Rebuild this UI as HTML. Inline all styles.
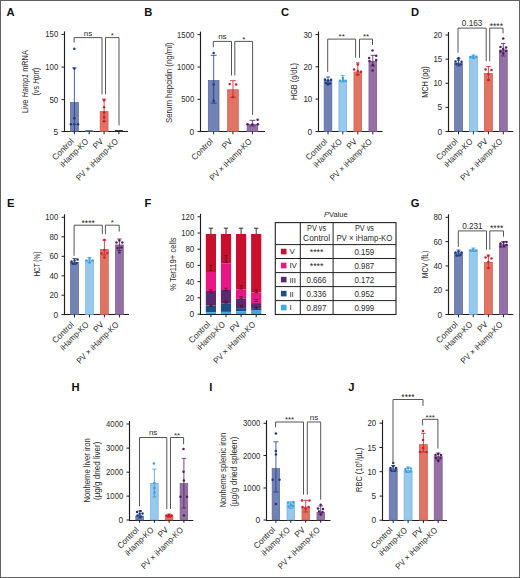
<!DOCTYPE html>
<html><head><meta charset="utf-8"><style>
html,body{margin:0;padding:0;background:#fff;}
body{width:520px;height:578px;overflow:hidden;}
svg{display:block;font-family:"Liberation Sans", sans-serif;}
</style></head><body>
<svg width="520" height="578" viewBox="0 0 520 578">
<rect x="0" y="0" width="520" height="578" fill="#fff"/>
<text x="6.60" y="16.20" font-size="11.2" text-anchor="start" fill="#111" font-weight="bold">A</text>
<line x1="64.50" y1="31.40" x2="64.50" y2="132.10" stroke="#1e1e1e" stroke-width="1.15"/>
<line x1="64.00" y1="131.50" x2="128.00" y2="131.50" stroke="#1e1e1e" stroke-width="1.15"/>
<line x1="61.50" y1="34.40" x2="64.50" y2="34.40" stroke="#1e1e1e" stroke-width="1.0"/>
<text x="58.20" y="37.40" font-size="8.6" text-anchor="end" fill="#2b2b2b" font-weight="normal" textLength="12.95" lengthAdjust="spacingAndGlyphs">150</text>
<line x1="61.50" y1="67.10" x2="64.50" y2="67.10" stroke="#1e1e1e" stroke-width="1.0"/>
<text x="58.20" y="70.10" font-size="8.6" text-anchor="end" fill="#2b2b2b" font-weight="normal" textLength="12.95" lengthAdjust="spacingAndGlyphs">100</text>
<line x1="61.50" y1="99.60" x2="64.50" y2="99.60" stroke="#1e1e1e" stroke-width="1.0"/>
<text x="58.20" y="102.60" font-size="8.6" text-anchor="end" fill="#2b2b2b" font-weight="normal" textLength="8.80" lengthAdjust="spacingAndGlyphs">50</text>
<line x1="61.50" y1="131.50" x2="64.50" y2="131.50" stroke="#1e1e1e" stroke-width="1.0"/>
<text x="58.20" y="134.50" font-size="8.6" text-anchor="end" fill="#2b2b2b" font-weight="normal" textLength="4.65" lengthAdjust="spacingAndGlyphs">5</text>
<rect x="70.45" y="102.55" width="7.90" height="28.95" fill="#7282b4" stroke="#55669c" stroke-width="0.7"/>
<line x1="74.40" y1="131.50" x2="74.40" y2="134.30" stroke="#1e1e1e" stroke-width="1.0"/>
<rect x="85.25" y="131.35" width="7.90" height="0.15" fill="#98c9ec" stroke="#6fb0e0" stroke-width="0.7"/>
<line x1="89.20" y1="131.50" x2="89.20" y2="134.30" stroke="#1e1e1e" stroke-width="1.0"/>
<rect x="100.15" y="111.55" width="7.90" height="19.95" fill="#e07464" stroke="#c85a4a" stroke-width="0.7"/>
<line x1="104.10" y1="131.50" x2="104.10" y2="134.30" stroke="#1e1e1e" stroke-width="1.0"/>
<rect x="114.95" y="131.35" width="7.90" height="0.15" fill="#9670a4" stroke="#7a5690" stroke-width="0.7"/>
<line x1="118.90" y1="131.50" x2="118.90" y2="134.30" stroke="#1e1e1e" stroke-width="1.0"/>
<line x1="74.40" y1="67.90" x2="74.40" y2="131.50" stroke="#1f3a7a" stroke-width="0.8"/>
<line x1="72.15" y1="67.90" x2="76.65" y2="67.90" stroke="#1f3a7a" stroke-width="0.8"/>
<line x1="72.15" y1="131.50" x2="76.65" y2="131.50" stroke="#1f3a7a" stroke-width="0.8"/>
<circle cx="74.30" cy="48.80" r="1.25" fill="#1f3a7a"/>
<circle cx="74.30" cy="68.60" r="1.25" fill="#1f3a7a"/>
<circle cx="74.30" cy="118.20" r="1.25" fill="#1f3a7a"/>
<circle cx="70.90" cy="124.30" r="1.25" fill="#1f3a7a"/>
<circle cx="74.30" cy="124.30" r="1.25" fill="#1f3a7a"/>
<circle cx="78.00" cy="124.30" r="1.25" fill="#1f3a7a"/>
<line x1="104.10" y1="99.10" x2="104.10" y2="121.50" stroke="#d01c2c" stroke-width="0.8"/>
<line x1="101.85" y1="99.10" x2="106.35" y2="99.10" stroke="#d01c2c" stroke-width="0.8"/>
<line x1="101.85" y1="121.50" x2="106.35" y2="121.50" stroke="#d01c2c" stroke-width="0.8"/>
<circle cx="104.10" cy="107.20" r="1.25" fill="#d01c2c"/>
<circle cx="104.10" cy="112.60" r="1.25" fill="#d01c2c"/>
<circle cx="104.10" cy="117.30" r="1.25" fill="#d01c2c"/>
<circle cx="104.10" cy="121.30" r="1.25" fill="#d01c2c"/>
<circle cx="104.10" cy="100.20" r="1.25" fill="#d01c2c"/>
<line x1="85.20" y1="131.00" x2="93.20" y2="131.00" stroke="#2a3f7a" stroke-width="1.4"/>
<line x1="114.90" y1="131.00" x2="122.90" y2="131.00" stroke="#222" stroke-width="1.8"/>
<polyline points="74.10,42.50 74.10,37.60 102.00,37.60 102.00,94.40" fill="none" stroke="#555555" stroke-width="1.0"/>
<text x="88.05" y="35.50" font-size="8.0" text-anchor="middle" fill="#2b2b2b" font-weight="normal">ns</text>
<polyline points="105.50,94.40 105.50,37.60 119.00,37.60 119.00,125.40" fill="none" stroke="#555555" stroke-width="1.0"/>
<text x="112.25" y="37.80" font-size="8.0" text-anchor="middle" fill="#2b2b2b" font-weight="normal">*</text>
<text x="0" y="0" transform="translate(74.20,142.00) rotate(-45)" font-size="8.5" text-anchor="end" fill="#2b2b2b" font-weight="normal" textLength="26.50" lengthAdjust="spacingAndGlyphs">Control</text>
<text x="0" y="0" transform="translate(89.00,142.00) rotate(-45)" font-size="8.5" text-anchor="end" fill="#2b2b2b" font-weight="normal" textLength="36.50" lengthAdjust="spacingAndGlyphs">iHamp-KO</text>
<text x="0" y="0" transform="translate(103.90,142.00) rotate(-45)" font-size="8.5" text-anchor="end" fill="#2b2b2b" font-weight="normal" textLength="10.70" lengthAdjust="spacingAndGlyphs">PV</text>
<text x="0" y="0" transform="translate(118.70,142.00) rotate(-45)" font-size="8.5" text-anchor="end" fill="#2b2b2b" font-weight="normal" textLength="55.50" lengthAdjust="spacingAndGlyphs">PV × iHamp-KO</text>
<text x="0" y="0" transform="translate(27.80,81.65) rotate(-90)" font-size="9.0" text-anchor="middle" fill="#2b2b2b" font-weight="normal" textLength="62.90" lengthAdjust="spacingAndGlyphs">Live <tspan font-style="italic">Hamp1</tspan> mRNA</text>
<text x="0" y="0" transform="translate(38.80,81.65) rotate(-90)" font-size="9.0" text-anchor="middle" fill="#2b2b2b" font-weight="normal" textLength="27.90" lengthAdjust="spacingAndGlyphs">(vs <tspan font-style="italic">Hprt</tspan>)</text>
<text x="144.20" y="16.20" font-size="11.2" text-anchor="start" fill="#111" font-weight="bold">B</text>
<line x1="200.50" y1="31.60" x2="200.50" y2="132.10" stroke="#1e1e1e" stroke-width="1.15"/>
<line x1="200.00" y1="131.50" x2="265.00" y2="131.50" stroke="#1e1e1e" stroke-width="1.15"/>
<line x1="197.50" y1="34.60" x2="200.50" y2="34.60" stroke="#1e1e1e" stroke-width="1.0"/>
<text x="194.20" y="37.60" font-size="8.6" text-anchor="end" fill="#2b2b2b" font-weight="normal" textLength="17.10" lengthAdjust="spacingAndGlyphs">1500</text>
<line x1="197.50" y1="67.00" x2="200.50" y2="67.00" stroke="#1e1e1e" stroke-width="1.0"/>
<text x="194.20" y="70.00" font-size="8.6" text-anchor="end" fill="#2b2b2b" font-weight="normal" textLength="17.10" lengthAdjust="spacingAndGlyphs">1000</text>
<line x1="197.50" y1="99.30" x2="200.50" y2="99.30" stroke="#1e1e1e" stroke-width="1.0"/>
<text x="194.20" y="102.30" font-size="8.6" text-anchor="end" fill="#2b2b2b" font-weight="normal" textLength="12.95" lengthAdjust="spacingAndGlyphs">500</text>
<line x1="197.50" y1="131.50" x2="200.50" y2="131.50" stroke="#1e1e1e" stroke-width="1.0"/>
<text x="194.20" y="134.50" font-size="8.6" text-anchor="end" fill="#2b2b2b" font-weight="normal" textLength="4.65" lengthAdjust="spacingAndGlyphs">0</text>
<rect x="208.30" y="80.45" width="10.70" height="51.05" fill="#7282b4" stroke="#55669c" stroke-width="0.7"/>
<line x1="213.65" y1="131.50" x2="213.65" y2="134.30" stroke="#1e1e1e" stroke-width="1.0"/>
<rect x="227.60" y="89.75" width="10.70" height="41.75" fill="#e07464" stroke="#c85a4a" stroke-width="0.7"/>
<line x1="232.95" y1="131.50" x2="232.95" y2="134.30" stroke="#1e1e1e" stroke-width="1.0"/>
<rect x="247.10" y="124.25" width="10.70" height="7.25" fill="#9670a4" stroke="#7a5690" stroke-width="0.7"/>
<line x1="252.45" y1="131.50" x2="252.45" y2="134.30" stroke="#1e1e1e" stroke-width="1.0"/>
<line x1="213.65" y1="55.30" x2="213.65" y2="103.10" stroke="#1f3a7a" stroke-width="0.8"/>
<line x1="210.65" y1="55.30" x2="216.65" y2="55.30" stroke="#1f3a7a" stroke-width="0.8"/>
<line x1="210.65" y1="103.10" x2="216.65" y2="103.10" stroke="#1f3a7a" stroke-width="0.8"/>
<circle cx="213.70" cy="52.90" r="1.25" fill="#1f3a7a"/>
<circle cx="213.70" cy="84.50" r="1.25" fill="#1f3a7a"/>
<circle cx="213.70" cy="100.70" r="1.25" fill="#1f3a7a"/>
<line x1="232.95" y1="80.70" x2="232.95" y2="97.30" stroke="#d01c2c" stroke-width="0.8"/>
<line x1="229.95" y1="80.70" x2="235.95" y2="80.70" stroke="#d01c2c" stroke-width="0.8"/>
<line x1="229.95" y1="97.30" x2="235.95" y2="97.30" stroke="#d01c2c" stroke-width="0.8"/>
<circle cx="229.70" cy="83.90" r="1.25" fill="#d01c2c"/>
<circle cx="236.10" cy="84.50" r="1.25" fill="#d01c2c"/>
<circle cx="232.90" cy="97.00" r="1.25" fill="#d01c2c"/>
<line x1="252.45" y1="120.30" x2="252.45" y2="126.00" stroke="#4f2060" stroke-width="0.8"/>
<line x1="249.45" y1="120.30" x2="255.45" y2="120.30" stroke="#4f2060" stroke-width="0.8"/>
<line x1="249.45" y1="126.00" x2="255.45" y2="126.00" stroke="#4f2060" stroke-width="0.8"/>
<circle cx="257.60" cy="119.80" r="1.25" fill="#4f2060"/>
<circle cx="247.50" cy="124.20" r="1.25" fill="#4f2060"/>
<circle cx="257.90" cy="124.20" r="1.25" fill="#4f2060"/>
<circle cx="252.40" cy="124.50" r="1.25" fill="#4f2060"/>
<polyline points="213.30,47.20 213.30,41.40 231.50,41.40 231.50,75.50" fill="none" stroke="#555555" stroke-width="1.0"/>
<text x="222.40" y="39.30" font-size="8.0" text-anchor="middle" fill="#2b2b2b" font-weight="normal">ns</text>
<polyline points="234.80,75.50 234.80,41.40 252.60,41.40 252.60,114.80" fill="none" stroke="#555555" stroke-width="1.0"/>
<text x="243.70" y="41.60" font-size="8.0" text-anchor="middle" fill="#2b2b2b" font-weight="normal">*</text>
<text x="0" y="0" transform="translate(213.45,142.00) rotate(-45)" font-size="8.5" text-anchor="end" fill="#2b2b2b" font-weight="normal" textLength="26.50" lengthAdjust="spacingAndGlyphs">Control</text>
<text x="0" y="0" transform="translate(232.75,142.00) rotate(-45)" font-size="8.5" text-anchor="end" fill="#2b2b2b" font-weight="normal" textLength="10.70" lengthAdjust="spacingAndGlyphs">PV</text>
<text x="0" y="0" transform="translate(252.25,142.00) rotate(-45)" font-size="8.5" text-anchor="end" fill="#2b2b2b" font-weight="normal" textLength="55.50" lengthAdjust="spacingAndGlyphs">PV × iHamp-KO</text>
<text x="0" y="0" transform="translate(171.60,82.70) rotate(-90)" font-size="9.0" text-anchor="middle" fill="#2b2b2b" font-weight="normal" textLength="80.70" lengthAdjust="spacingAndGlyphs">Serum hepcidin (ng/ml)</text>
<text x="281.00" y="16.20" font-size="11.2" text-anchor="start" fill="#111" font-weight="bold">C</text>
<line x1="318.50" y1="31.50" x2="318.50" y2="132.10" stroke="#1e1e1e" stroke-width="1.15"/>
<line x1="318.00" y1="131.50" x2="382.50" y2="131.50" stroke="#1e1e1e" stroke-width="1.15"/>
<line x1="315.50" y1="34.50" x2="318.50" y2="34.50" stroke="#1e1e1e" stroke-width="1.0"/>
<text x="312.20" y="37.50" font-size="8.6" text-anchor="end" fill="#2b2b2b" font-weight="normal" textLength="8.80" lengthAdjust="spacingAndGlyphs">30</text>
<line x1="315.50" y1="66.80" x2="318.50" y2="66.80" stroke="#1e1e1e" stroke-width="1.0"/>
<text x="312.20" y="69.80" font-size="8.6" text-anchor="end" fill="#2b2b2b" font-weight="normal" textLength="8.80" lengthAdjust="spacingAndGlyphs">20</text>
<line x1="315.50" y1="99.10" x2="318.50" y2="99.10" stroke="#1e1e1e" stroke-width="1.0"/>
<text x="312.20" y="102.10" font-size="8.6" text-anchor="end" fill="#2b2b2b" font-weight="normal" textLength="8.80" lengthAdjust="spacingAndGlyphs">10</text>
<line x1="315.50" y1="131.60" x2="318.50" y2="131.60" stroke="#1e1e1e" stroke-width="1.0"/>
<text x="312.20" y="134.60" font-size="8.6" text-anchor="end" fill="#2b2b2b" font-weight="normal" textLength="4.65" lengthAdjust="spacingAndGlyphs">0</text>
<rect x="324.15" y="80.45" width="7.70" height="51.15" fill="#7282b4" stroke="#55669c" stroke-width="0.7"/>
<line x1="328.00" y1="131.60" x2="328.00" y2="134.40" stroke="#1e1e1e" stroke-width="1.0"/>
<rect x="338.95" y="81.05" width="7.70" height="50.55" fill="#98c9ec" stroke="#6fb0e0" stroke-width="0.7"/>
<line x1="342.80" y1="131.60" x2="342.80" y2="134.40" stroke="#1e1e1e" stroke-width="1.0"/>
<rect x="353.95" y="71.95" width="7.70" height="59.65" fill="#e07464" stroke="#c85a4a" stroke-width="0.7"/>
<line x1="357.80" y1="131.60" x2="357.80" y2="134.40" stroke="#1e1e1e" stroke-width="1.0"/>
<rect x="368.95" y="61.35" width="7.70" height="70.25" fill="#9670a4" stroke="#7a5690" stroke-width="0.7"/>
<line x1="372.80" y1="131.60" x2="372.80" y2="134.40" stroke="#1e1e1e" stroke-width="1.0"/>
<line x1="328.00" y1="77.00" x2="328.00" y2="84.00" stroke="#1f3a7a" stroke-width="0.8"/>
<line x1="326.00" y1="77.00" x2="330.00" y2="77.00" stroke="#1f3a7a" stroke-width="0.8"/>
<line x1="326.00" y1="84.00" x2="330.00" y2="84.00" stroke="#1f3a7a" stroke-width="0.8"/>
<circle cx="325.00" cy="79.50" r="1.25" fill="#1f3a7a"/>
<circle cx="328.00" cy="80.50" r="1.25" fill="#1f3a7a"/>
<circle cx="331.00" cy="79.80" r="1.25" fill="#1f3a7a"/>
<circle cx="326.00" cy="83.00" r="1.25" fill="#1f3a7a"/>
<circle cx="330.00" cy="83.50" r="1.25" fill="#1f3a7a"/>
<circle cx="328.00" cy="84.50" r="1.25" fill="#1f3a7a"/>
<line x1="342.80" y1="75.50" x2="342.80" y2="82.00" stroke="#3a9fdc" stroke-width="0.8"/>
<line x1="340.80" y1="75.50" x2="344.80" y2="75.50" stroke="#3a9fdc" stroke-width="0.8"/>
<line x1="340.80" y1="82.00" x2="344.80" y2="82.00" stroke="#3a9fdc" stroke-width="0.8"/>
<circle cx="340.00" cy="80.70" r="1.25" fill="#3a9fdc"/>
<circle cx="343.00" cy="80.20" r="1.25" fill="#3a9fdc"/>
<circle cx="345.50" cy="80.80" r="1.25" fill="#3a9fdc"/>
<circle cx="342.80" cy="78.00" r="1.25" fill="#3a9fdc"/>
<line x1="357.80" y1="62.80" x2="357.80" y2="74.50" stroke="#d01c2c" stroke-width="0.8"/>
<line x1="355.80" y1="62.80" x2="359.80" y2="62.80" stroke="#d01c2c" stroke-width="0.8"/>
<line x1="355.80" y1="74.50" x2="359.80" y2="74.50" stroke="#d01c2c" stroke-width="0.8"/>
<circle cx="354.10" cy="69.60" r="1.25" fill="#d01c2c"/>
<circle cx="361.00" cy="71.80" r="1.25" fill="#d01c2c"/>
<circle cx="357.60" cy="74.80" r="1.25" fill="#d01c2c"/>
<circle cx="357.80" cy="64.50" r="1.25" fill="#d01c2c"/>
<circle cx="357.80" cy="71.00" r="1.25" fill="#d01c2c"/>
<line x1="372.80" y1="55.30" x2="372.80" y2="66.00" stroke="#4f2060" stroke-width="0.8"/>
<line x1="370.55" y1="55.30" x2="375.05" y2="55.30" stroke="#4f2060" stroke-width="0.8"/>
<line x1="370.55" y1="66.00" x2="375.05" y2="66.00" stroke="#4f2060" stroke-width="0.8"/>
<circle cx="372.50" cy="50.60" r="1.25" fill="#4f2060"/>
<circle cx="369.20" cy="57.90" r="1.25" fill="#4f2060"/>
<circle cx="376.20" cy="55.80" r="1.25" fill="#4f2060"/>
<circle cx="376.20" cy="60.10" r="1.25" fill="#4f2060"/>
<circle cx="372.70" cy="64.90" r="1.25" fill="#4f2060"/>
<circle cx="372.50" cy="70.50" r="1.25" fill="#4f2060"/>
<circle cx="369.50" cy="61.00" r="1.25" fill="#4f2060"/>
<polyline points="327.70,71.90 327.70,39.10 355.60,39.10 355.60,57.80" fill="none" stroke="#555555" stroke-width="1.0"/>
<text x="341.65" y="39.30" font-size="8.0" text-anchor="middle" fill="#2b2b2b" font-weight="normal">**</text>
<polyline points="359.50,57.80 359.50,39.10 372.50,39.10 372.50,45.00" fill="none" stroke="#555555" stroke-width="1.0"/>
<text x="366.00" y="39.30" font-size="8.0" text-anchor="middle" fill="#2b2b2b" font-weight="normal">**</text>
<text x="0" y="0" transform="translate(327.80,142.10) rotate(-45)" font-size="8.5" text-anchor="end" fill="#2b2b2b" font-weight="normal" textLength="26.50" lengthAdjust="spacingAndGlyphs">Control</text>
<text x="0" y="0" transform="translate(342.60,142.10) rotate(-45)" font-size="8.5" text-anchor="end" fill="#2b2b2b" font-weight="normal" textLength="36.50" lengthAdjust="spacingAndGlyphs">iHamp-KO</text>
<text x="0" y="0" transform="translate(357.60,142.10) rotate(-45)" font-size="8.5" text-anchor="end" fill="#2b2b2b" font-weight="normal" textLength="10.70" lengthAdjust="spacingAndGlyphs">PV</text>
<text x="0" y="0" transform="translate(372.60,142.10) rotate(-45)" font-size="8.5" text-anchor="end" fill="#2b2b2b" font-weight="normal" textLength="55.50" lengthAdjust="spacingAndGlyphs">PV × iHamp-KO</text>
<text x="0" y="0" transform="translate(297.40,81.60) rotate(-90)" font-size="9.0" text-anchor="middle" fill="#2b2b2b" font-weight="normal" textLength="37.00" lengthAdjust="spacingAndGlyphs">HGB (g/dL)</text>
<text x="411.00" y="16.20" font-size="11.2" text-anchor="start" fill="#111" font-weight="bold">D</text>
<line x1="448.50" y1="32.00" x2="448.50" y2="132.10" stroke="#1e1e1e" stroke-width="1.15"/>
<line x1="448.00" y1="131.50" x2="513.30" y2="131.50" stroke="#1e1e1e" stroke-width="1.15"/>
<line x1="445.50" y1="35.00" x2="448.50" y2="35.00" stroke="#1e1e1e" stroke-width="1.0"/>
<text x="442.20" y="38.00" font-size="8.6" text-anchor="end" fill="#2b2b2b" font-weight="normal" textLength="8.80" lengthAdjust="spacingAndGlyphs">20</text>
<line x1="445.50" y1="59.20" x2="448.50" y2="59.20" stroke="#1e1e1e" stroke-width="1.0"/>
<text x="442.20" y="62.20" font-size="8.6" text-anchor="end" fill="#2b2b2b" font-weight="normal" textLength="8.80" lengthAdjust="spacingAndGlyphs">15</text>
<line x1="445.50" y1="83.30" x2="448.50" y2="83.30" stroke="#1e1e1e" stroke-width="1.0"/>
<text x="442.20" y="86.30" font-size="8.6" text-anchor="end" fill="#2b2b2b" font-weight="normal" textLength="8.80" lengthAdjust="spacingAndGlyphs">10</text>
<line x1="445.50" y1="107.40" x2="448.50" y2="107.40" stroke="#1e1e1e" stroke-width="1.0"/>
<text x="442.20" y="110.40" font-size="8.6" text-anchor="end" fill="#2b2b2b" font-weight="normal" textLength="4.65" lengthAdjust="spacingAndGlyphs">5</text>
<line x1="445.50" y1="131.50" x2="448.50" y2="131.50" stroke="#1e1e1e" stroke-width="1.0"/>
<text x="442.20" y="134.50" font-size="8.6" text-anchor="end" fill="#2b2b2b" font-weight="normal" textLength="4.65" lengthAdjust="spacingAndGlyphs">0</text>
<rect x="454.55" y="63.05" width="7.90" height="68.45" fill="#7282b4" stroke="#55669c" stroke-width="0.7"/>
<line x1="458.50" y1="131.50" x2="458.50" y2="134.30" stroke="#1e1e1e" stroke-width="1.0"/>
<rect x="469.45" y="56.85" width="7.90" height="74.65" fill="#98c9ec" stroke="#6fb0e0" stroke-width="0.7"/>
<line x1="473.40" y1="131.50" x2="473.40" y2="134.30" stroke="#1e1e1e" stroke-width="1.0"/>
<rect x="484.45" y="73.55" width="7.90" height="57.95" fill="#e07464" stroke="#c85a4a" stroke-width="0.7"/>
<line x1="488.40" y1="131.50" x2="488.40" y2="134.30" stroke="#1e1e1e" stroke-width="1.0"/>
<rect x="499.35" y="49.95" width="7.90" height="81.55" fill="#9670a4" stroke="#7a5690" stroke-width="0.7"/>
<line x1="503.30" y1="131.50" x2="503.30" y2="134.30" stroke="#1e1e1e" stroke-width="1.0"/>
<line x1="458.50" y1="58.50" x2="458.50" y2="66.00" stroke="#1f3a7a" stroke-width="0.8"/>
<line x1="456.50" y1="58.50" x2="460.50" y2="58.50" stroke="#1f3a7a" stroke-width="0.8"/>
<line x1="456.50" y1="66.00" x2="460.50" y2="66.00" stroke="#1f3a7a" stroke-width="0.8"/>
<circle cx="455.50" cy="61.50" r="1.25" fill="#1f3a7a"/>
<circle cx="458.50" cy="60.00" r="1.25" fill="#1f3a7a"/>
<circle cx="461.50" cy="61.80" r="1.25" fill="#1f3a7a"/>
<circle cx="456.50" cy="64.00" r="1.25" fill="#1f3a7a"/>
<circle cx="460.50" cy="64.50" r="1.25" fill="#1f3a7a"/>
<circle cx="458.50" cy="58.00" r="1.25" fill="#1f3a7a"/>
<line x1="473.40" y1="55.00" x2="473.40" y2="58.50" stroke="#3a9fdc" stroke-width="0.8"/>
<line x1="471.40" y1="55.00" x2="475.40" y2="55.00" stroke="#3a9fdc" stroke-width="0.8"/>
<line x1="471.40" y1="58.50" x2="475.40" y2="58.50" stroke="#3a9fdc" stroke-width="0.8"/>
<circle cx="470.50" cy="57.00" r="1.25" fill="#3a9fdc"/>
<circle cx="473.40" cy="56.00" r="1.25" fill="#3a9fdc"/>
<circle cx="476.30" cy="56.80" r="1.25" fill="#3a9fdc"/>
<circle cx="473.40" cy="58.00" r="1.25" fill="#3a9fdc"/>
<line x1="488.40" y1="66.50" x2="488.40" y2="80.00" stroke="#d01c2c" stroke-width="0.8"/>
<line x1="486.40" y1="66.50" x2="490.40" y2="66.50" stroke="#d01c2c" stroke-width="0.8"/>
<line x1="486.40" y1="80.00" x2="490.40" y2="80.00" stroke="#d01c2c" stroke-width="0.8"/>
<circle cx="485.50" cy="69.50" r="1.25" fill="#d01c2c"/>
<circle cx="491.50" cy="70.00" r="1.25" fill="#d01c2c"/>
<circle cx="488.40" cy="74.00" r="1.25" fill="#d01c2c"/>
<circle cx="488.40" cy="80.00" r="1.25" fill="#d01c2c"/>
<line x1="503.30" y1="43.50" x2="503.30" y2="56.00" stroke="#4f2060" stroke-width="0.8"/>
<line x1="501.05" y1="43.50" x2="505.55" y2="43.50" stroke="#4f2060" stroke-width="0.8"/>
<line x1="501.05" y1="56.00" x2="505.55" y2="56.00" stroke="#4f2060" stroke-width="0.8"/>
<circle cx="503.20" cy="38.50" r="1.25" fill="#4f2060"/>
<circle cx="500.50" cy="47.00" r="1.25" fill="#4f2060"/>
<circle cx="506.00" cy="47.50" r="1.25" fill="#4f2060"/>
<circle cx="500.50" cy="51.50" r="1.25" fill="#4f2060"/>
<circle cx="506.00" cy="51.00" r="1.25" fill="#4f2060"/>
<circle cx="503.20" cy="53.50" r="1.25" fill="#4f2060"/>
<circle cx="503.20" cy="49.00" r="1.25" fill="#4f2060"/>
<polyline points="458.00,52.70 458.00,28.10 486.20,28.10 486.20,61.20" fill="none" stroke="#555555" stroke-width="1.0"/>
<text x="472.10" y="25.70" font-size="8.2" text-anchor="middle" fill="#2b2b2b" font-weight="normal">0.163</text>
<polyline points="489.70,61.20 489.70,28.10 503.00,28.10 503.00,33.50" fill="none" stroke="#555555" stroke-width="1.0"/>
<text x="496.35" y="28.50" font-size="8.6" text-anchor="middle" fill="#2b2b2b" font-weight="normal">****</text>
<text x="0" y="0" transform="translate(458.30,142.00) rotate(-45)" font-size="8.5" text-anchor="end" fill="#2b2b2b" font-weight="normal" textLength="26.50" lengthAdjust="spacingAndGlyphs">Control</text>
<text x="0" y="0" transform="translate(473.20,142.00) rotate(-45)" font-size="8.5" text-anchor="end" fill="#2b2b2b" font-weight="normal" textLength="36.50" lengthAdjust="spacingAndGlyphs">iHamp-KO</text>
<text x="0" y="0" transform="translate(488.20,142.00) rotate(-45)" font-size="8.5" text-anchor="end" fill="#2b2b2b" font-weight="normal" textLength="10.70" lengthAdjust="spacingAndGlyphs">PV</text>
<text x="0" y="0" transform="translate(503.10,142.00) rotate(-45)" font-size="8.5" text-anchor="end" fill="#2b2b2b" font-weight="normal" textLength="55.50" lengthAdjust="spacingAndGlyphs">PV × iHamp-KO</text>
<text x="0" y="0" transform="translate(427.80,82.00) rotate(-90)" font-size="9.0" text-anchor="middle" fill="#2b2b2b" font-weight="normal" textLength="31.50" lengthAdjust="spacingAndGlyphs">MCH (pg)</text>
<text x="6.90" y="207.40" font-size="11.2" text-anchor="start" fill="#111" font-weight="bold">E</text>
<line x1="64.50" y1="214.30" x2="64.50" y2="315.10" stroke="#1e1e1e" stroke-width="1.15"/>
<line x1="64.00" y1="314.50" x2="129.00" y2="314.50" stroke="#1e1e1e" stroke-width="1.15"/>
<line x1="61.50" y1="217.30" x2="64.50" y2="217.30" stroke="#1e1e1e" stroke-width="1.0"/>
<text x="58.20" y="220.30" font-size="8.6" text-anchor="end" fill="#2b2b2b" font-weight="normal" textLength="12.95" lengthAdjust="spacingAndGlyphs">100</text>
<line x1="61.50" y1="236.80" x2="64.50" y2="236.80" stroke="#1e1e1e" stroke-width="1.0"/>
<text x="58.20" y="239.80" font-size="8.6" text-anchor="end" fill="#2b2b2b" font-weight="normal" textLength="8.80" lengthAdjust="spacingAndGlyphs">80</text>
<line x1="61.50" y1="256.30" x2="64.50" y2="256.30" stroke="#1e1e1e" stroke-width="1.0"/>
<text x="58.20" y="259.30" font-size="8.6" text-anchor="end" fill="#2b2b2b" font-weight="normal" textLength="8.80" lengthAdjust="spacingAndGlyphs">60</text>
<line x1="61.50" y1="275.80" x2="64.50" y2="275.80" stroke="#1e1e1e" stroke-width="1.0"/>
<text x="58.20" y="278.80" font-size="8.6" text-anchor="end" fill="#2b2b2b" font-weight="normal" textLength="8.80" lengthAdjust="spacingAndGlyphs">40</text>
<line x1="61.50" y1="295.20" x2="64.50" y2="295.20" stroke="#1e1e1e" stroke-width="1.0"/>
<text x="58.20" y="298.20" font-size="8.6" text-anchor="end" fill="#2b2b2b" font-weight="normal" textLength="8.80" lengthAdjust="spacingAndGlyphs">20</text>
<line x1="61.50" y1="314.60" x2="64.50" y2="314.60" stroke="#1e1e1e" stroke-width="1.0"/>
<text x="58.20" y="317.60" font-size="8.6" text-anchor="end" fill="#2b2b2b" font-weight="normal" textLength="4.65" lengthAdjust="spacingAndGlyphs">0</text>
<rect x="70.60" y="262.35" width="7.80" height="52.25" fill="#7282b4" stroke="#55669c" stroke-width="0.7"/>
<line x1="74.50" y1="314.60" x2="74.50" y2="317.40" stroke="#1e1e1e" stroke-width="1.0"/>
<rect x="85.60" y="260.55" width="7.80" height="54.05" fill="#98c9ec" stroke="#6fb0e0" stroke-width="0.7"/>
<line x1="89.50" y1="314.60" x2="89.50" y2="317.40" stroke="#1e1e1e" stroke-width="1.0"/>
<rect x="100.50" y="249.35" width="7.80" height="65.25" fill="#e07464" stroke="#c85a4a" stroke-width="0.7"/>
<line x1="104.40" y1="314.60" x2="104.40" y2="317.40" stroke="#1e1e1e" stroke-width="1.0"/>
<rect x="115.50" y="244.95" width="7.80" height="69.65" fill="#9670a4" stroke="#7a5690" stroke-width="0.7"/>
<line x1="119.40" y1="314.60" x2="119.40" y2="317.40" stroke="#1e1e1e" stroke-width="1.0"/>
<line x1="74.50" y1="258.50" x2="74.50" y2="264.50" stroke="#1f3a7a" stroke-width="0.8"/>
<line x1="72.50" y1="258.50" x2="76.50" y2="258.50" stroke="#1f3a7a" stroke-width="0.8"/>
<line x1="72.50" y1="264.50" x2="76.50" y2="264.50" stroke="#1f3a7a" stroke-width="0.8"/>
<circle cx="71.50" cy="261.50" r="1.25" fill="#1f3a7a"/>
<circle cx="74.50" cy="260.50" r="1.25" fill="#1f3a7a"/>
<circle cx="77.50" cy="259.50" r="1.25" fill="#1f3a7a"/>
<circle cx="72.50" cy="263.50" r="1.25" fill="#1f3a7a"/>
<circle cx="76.50" cy="263.00" r="1.25" fill="#1f3a7a"/>
<line x1="89.50" y1="257.50" x2="89.50" y2="262.50" stroke="#3a9fdc" stroke-width="0.8"/>
<line x1="87.50" y1="257.50" x2="91.50" y2="257.50" stroke="#3a9fdc" stroke-width="0.8"/>
<line x1="87.50" y1="262.50" x2="91.50" y2="262.50" stroke="#3a9fdc" stroke-width="0.8"/>
<circle cx="86.50" cy="260.50" r="1.25" fill="#3a9fdc"/>
<circle cx="89.50" cy="259.00" r="1.25" fill="#3a9fdc"/>
<circle cx="92.50" cy="260.50" r="1.25" fill="#3a9fdc"/>
<circle cx="89.50" cy="262.50" r="1.25" fill="#3a9fdc"/>
<line x1="104.40" y1="240.00" x2="104.40" y2="255.00" stroke="#d01c2c" stroke-width="0.8"/>
<line x1="102.40" y1="240.00" x2="106.40" y2="240.00" stroke="#d01c2c" stroke-width="0.8"/>
<line x1="102.40" y1="255.00" x2="106.40" y2="255.00" stroke="#d01c2c" stroke-width="0.8"/>
<circle cx="101.50" cy="253.50" r="1.25" fill="#d01c2c"/>
<circle cx="107.40" cy="253.00" r="1.25" fill="#d01c2c"/>
<circle cx="104.40" cy="250.00" r="1.25" fill="#d01c2c"/>
<circle cx="104.40" cy="240.00" r="1.25" fill="#d01c2c"/>
<circle cx="104.40" cy="257.50" r="1.25" fill="#d01c2c"/>
<line x1="119.40" y1="239.00" x2="119.40" y2="250.50" stroke="#4f2060" stroke-width="0.8"/>
<line x1="117.15" y1="239.00" x2="121.65" y2="239.00" stroke="#4f2060" stroke-width="0.8"/>
<line x1="117.15" y1="250.50" x2="121.65" y2="250.50" stroke="#4f2060" stroke-width="0.8"/>
<circle cx="116.50" cy="242.50" r="1.25" fill="#4f2060"/>
<circle cx="122.30" cy="242.50" r="1.25" fill="#4f2060"/>
<circle cx="119.40" cy="240.50" r="1.25" fill="#4f2060"/>
<circle cx="117.50" cy="248.00" r="1.25" fill="#4f2060"/>
<circle cx="121.50" cy="247.50" r="1.25" fill="#4f2060"/>
<circle cx="119.40" cy="252.50" r="1.25" fill="#4f2060"/>
<polyline points="74.10,255.80 74.10,225.20 102.30,225.20 102.30,234.20" fill="none" stroke="#555555" stroke-width="1.0"/>
<text x="88.20" y="225.60" font-size="8.6" text-anchor="middle" fill="#2b2b2b" font-weight="normal">****</text>
<polyline points="105.40,234.20 105.40,225.20 119.20,225.20 119.20,231.60" fill="none" stroke="#555555" stroke-width="1.0"/>
<text x="112.30" y="225.40" font-size="8.0" text-anchor="middle" fill="#2b2b2b" font-weight="normal">*</text>
<text x="0" y="0" transform="translate(74.30,325.10) rotate(-45)" font-size="8.5" text-anchor="end" fill="#2b2b2b" font-weight="normal" textLength="26.50" lengthAdjust="spacingAndGlyphs">Control</text>
<text x="0" y="0" transform="translate(89.30,325.10) rotate(-45)" font-size="8.5" text-anchor="end" fill="#2b2b2b" font-weight="normal" textLength="36.50" lengthAdjust="spacingAndGlyphs">iHamp-KO</text>
<text x="0" y="0" transform="translate(104.20,325.10) rotate(-45)" font-size="8.5" text-anchor="end" fill="#2b2b2b" font-weight="normal" textLength="10.70" lengthAdjust="spacingAndGlyphs">PV</text>
<text x="0" y="0" transform="translate(119.20,325.10) rotate(-45)" font-size="8.5" text-anchor="end" fill="#2b2b2b" font-weight="normal" textLength="55.50" lengthAdjust="spacingAndGlyphs">PV × iHamp-KO</text>
<text x="0" y="0" transform="translate(39.90,264.10) rotate(-90)" font-size="9.0" text-anchor="middle" fill="#2b2b2b" font-weight="normal" textLength="25.00" lengthAdjust="spacingAndGlyphs">HCT (%)</text>
<text x="144.40" y="207.40" font-size="11.2" text-anchor="start" fill="#111" font-weight="bold">F</text>
<line x1="200.50" y1="213.80" x2="200.50" y2="315.10" stroke="#1e1e1e" stroke-width="1.15"/>
<line x1="200.00" y1="314.50" x2="266.00" y2="314.50" stroke="#1e1e1e" stroke-width="1.15"/>
<line x1="197.50" y1="216.80" x2="200.50" y2="216.80" stroke="#1e1e1e" stroke-width="1.0"/>
<text x="194.20" y="219.80" font-size="8.6" text-anchor="end" fill="#2b2b2b" font-weight="normal" textLength="12.95" lengthAdjust="spacingAndGlyphs">120</text>
<line x1="197.50" y1="233.00" x2="200.50" y2="233.00" stroke="#1e1e1e" stroke-width="1.0"/>
<text x="194.20" y="236.00" font-size="8.6" text-anchor="end" fill="#2b2b2b" font-weight="normal" textLength="12.95" lengthAdjust="spacingAndGlyphs">100</text>
<line x1="197.50" y1="249.20" x2="200.50" y2="249.20" stroke="#1e1e1e" stroke-width="1.0"/>
<text x="194.20" y="252.20" font-size="8.6" text-anchor="end" fill="#2b2b2b" font-weight="normal" textLength="8.80" lengthAdjust="spacingAndGlyphs">80</text>
<line x1="197.50" y1="265.40" x2="200.50" y2="265.40" stroke="#1e1e1e" stroke-width="1.0"/>
<text x="194.20" y="268.40" font-size="8.6" text-anchor="end" fill="#2b2b2b" font-weight="normal" textLength="8.80" lengthAdjust="spacingAndGlyphs">60</text>
<line x1="197.50" y1="281.60" x2="200.50" y2="281.60" stroke="#1e1e1e" stroke-width="1.0"/>
<text x="194.20" y="284.60" font-size="8.6" text-anchor="end" fill="#2b2b2b" font-weight="normal" textLength="8.80" lengthAdjust="spacingAndGlyphs">40</text>
<line x1="197.50" y1="297.80" x2="200.50" y2="297.80" stroke="#1e1e1e" stroke-width="1.0"/>
<text x="194.20" y="300.80" font-size="8.6" text-anchor="end" fill="#2b2b2b" font-weight="normal" textLength="8.80" lengthAdjust="spacingAndGlyphs">20</text>
<line x1="197.50" y1="314.20" x2="200.50" y2="314.20" stroke="#1e1e1e" stroke-width="1.0"/>
<text x="194.20" y="317.20" font-size="8.6" text-anchor="end" fill="#2b2b2b" font-weight="normal" textLength="4.65" lengthAdjust="spacingAndGlyphs">0</text>
<rect x="205.80" y="234.00" width="10.20" height="38.00" fill="#c8102e"/>
<rect x="205.80" y="272.00" width="10.20" height="19.00" fill="#ec1584"/>
<rect x="205.80" y="291.00" width="10.20" height="14.60" fill="#5b2a6e"/>
<rect x="205.80" y="305.60" width="10.20" height="6.60" fill="#1d4f82"/>
<rect x="205.80" y="312.20" width="10.20" height="1.80" fill="#3fa9e0"/>
<line x1="210.90" y1="228.20" x2="210.90" y2="234.00" stroke="#333" stroke-width="1.0"/>
<line x1="208.70" y1="228.20" x2="213.10" y2="228.20" stroke="#333" stroke-width="1.0"/>
<line x1="210.90" y1="314.40" x2="210.90" y2="317.20" stroke="#1e1e1e" stroke-width="1.0"/>
<rect x="220.90" y="234.00" width="10.20" height="29.20" fill="#c8102e"/>
<rect x="220.90" y="263.20" width="10.20" height="26.80" fill="#ec1584"/>
<rect x="220.90" y="290.00" width="10.20" height="13.70" fill="#5b2a6e"/>
<rect x="220.90" y="303.70" width="10.20" height="8.20" fill="#1d4f82"/>
<rect x="220.90" y="311.90" width="10.20" height="2.10" fill="#3fa9e0"/>
<line x1="226.00" y1="228.20" x2="226.00" y2="234.00" stroke="#333" stroke-width="1.0"/>
<line x1="223.80" y1="228.20" x2="228.20" y2="228.20" stroke="#333" stroke-width="1.0"/>
<line x1="226.00" y1="314.40" x2="226.00" y2="317.20" stroke="#1e1e1e" stroke-width="1.0"/>
<rect x="236.00" y="234.00" width="10.20" height="55.40" fill="#c8102e"/>
<rect x="236.00" y="289.40" width="10.20" height="9.30" fill="#ec1584"/>
<rect x="236.00" y="298.70" width="10.20" height="9.40" fill="#5b2a6e"/>
<rect x="236.00" y="308.10" width="10.20" height="3.10" fill="#1d4f82"/>
<rect x="236.00" y="311.20" width="10.20" height="2.80" fill="#3fa9e0"/>
<line x1="241.10" y1="228.20" x2="241.10" y2="234.00" stroke="#333" stroke-width="1.0"/>
<line x1="238.90" y1="228.20" x2="243.30" y2="228.20" stroke="#333" stroke-width="1.0"/>
<line x1="241.10" y1="314.40" x2="241.10" y2="317.20" stroke="#1e1e1e" stroke-width="1.0"/>
<rect x="251.10" y="234.00" width="10.20" height="58.50" fill="#c8102e"/>
<rect x="251.10" y="292.50" width="10.20" height="10.60" fill="#ec1584"/>
<rect x="251.10" y="303.10" width="10.20" height="5.00" fill="#5b2a6e"/>
<rect x="251.10" y="308.10" width="10.20" height="2.50" fill="#1d4f82"/>
<rect x="251.10" y="310.60" width="10.20" height="3.40" fill="#3fa9e0"/>
<line x1="256.20" y1="228.20" x2="256.20" y2="234.00" stroke="#333" stroke-width="1.0"/>
<line x1="254.00" y1="228.20" x2="258.40" y2="228.20" stroke="#333" stroke-width="1.0"/>
<line x1="256.20" y1="314.40" x2="256.20" y2="317.20" stroke="#1e1e1e" stroke-width="1.0"/>
<line x1="210.90" y1="265.30" x2="210.90" y2="270.50" stroke="#4a1028" stroke-width="0.8"/>
<line x1="209.20" y1="265.30" x2="212.60" y2="265.30" stroke="#4a1028" stroke-width="0.8"/>
<line x1="209.20" y1="270.50" x2="212.60" y2="270.50" stroke="#4a1028" stroke-width="0.8"/>
<line x1="226.00" y1="255.50" x2="226.00" y2="262.40" stroke="#4a1028" stroke-width="0.8"/>
<line x1="224.30" y1="255.50" x2="227.70" y2="255.50" stroke="#4a1028" stroke-width="0.8"/>
<line x1="224.30" y1="262.40" x2="227.70" y2="262.40" stroke="#4a1028" stroke-width="0.8"/>
<line x1="241.10" y1="285.60" x2="241.10" y2="289.00" stroke="#4a1028" stroke-width="0.8"/>
<line x1="239.40" y1="285.60" x2="242.80" y2="285.60" stroke="#4a1028" stroke-width="0.8"/>
<line x1="239.40" y1="289.00" x2="242.80" y2="289.00" stroke="#4a1028" stroke-width="0.8"/>
<line x1="256.20" y1="290.00" x2="256.20" y2="292.60" stroke="#4a1028" stroke-width="0.8"/>
<line x1="254.50" y1="290.00" x2="257.90" y2="290.00" stroke="#4a1028" stroke-width="0.8"/>
<line x1="254.50" y1="292.60" x2="257.90" y2="292.60" stroke="#4a1028" stroke-width="0.8"/>
<line x1="210.90" y1="289.60" x2="210.90" y2="292.00" stroke="#4a1028" stroke-width="0.8"/>
<line x1="209.20" y1="289.60" x2="212.60" y2="289.60" stroke="#4a1028" stroke-width="0.8"/>
<line x1="209.20" y1="292.00" x2="212.60" y2="292.00" stroke="#4a1028" stroke-width="0.8"/>
<line x1="226.00" y1="288.30" x2="226.00" y2="290.50" stroke="#4a1028" stroke-width="0.8"/>
<line x1="224.30" y1="288.30" x2="227.70" y2="288.30" stroke="#4a1028" stroke-width="0.8"/>
<line x1="224.30" y1="290.50" x2="227.70" y2="290.50" stroke="#4a1028" stroke-width="0.8"/>
<line x1="241.10" y1="296.60" x2="241.10" y2="298.70" stroke="#4a1028" stroke-width="0.8"/>
<line x1="239.40" y1="296.60" x2="242.80" y2="296.60" stroke="#4a1028" stroke-width="0.8"/>
<line x1="239.40" y1="298.70" x2="242.80" y2="298.70" stroke="#4a1028" stroke-width="0.8"/>
<line x1="256.20" y1="299.50" x2="256.20" y2="301.50" stroke="#4a1028" stroke-width="0.8"/>
<line x1="254.50" y1="299.50" x2="257.90" y2="299.50" stroke="#4a1028" stroke-width="0.8"/>
<line x1="254.50" y1="301.50" x2="257.90" y2="301.50" stroke="#4a1028" stroke-width="0.8"/>
<line x1="210.90" y1="304.80" x2="210.90" y2="306.40" stroke="#4a1028" stroke-width="0.8"/>
<line x1="209.20" y1="304.80" x2="212.60" y2="304.80" stroke="#4a1028" stroke-width="0.8"/>
<line x1="209.20" y1="306.40" x2="212.60" y2="306.40" stroke="#4a1028" stroke-width="0.8"/>
<line x1="226.00" y1="301.30" x2="226.00" y2="303.00" stroke="#4a1028" stroke-width="0.8"/>
<line x1="224.30" y1="301.30" x2="227.70" y2="301.30" stroke="#4a1028" stroke-width="0.8"/>
<line x1="224.30" y1="303.00" x2="227.70" y2="303.00" stroke="#4a1028" stroke-width="0.8"/>
<line x1="241.10" y1="305.20" x2="241.10" y2="306.80" stroke="#4a1028" stroke-width="0.8"/>
<line x1="239.40" y1="305.20" x2="242.80" y2="305.20" stroke="#4a1028" stroke-width="0.8"/>
<line x1="239.40" y1="306.80" x2="242.80" y2="306.80" stroke="#4a1028" stroke-width="0.8"/>
<line x1="256.20" y1="307.40" x2="256.20" y2="308.80" stroke="#4a1028" stroke-width="0.8"/>
<line x1="254.50" y1="307.40" x2="257.90" y2="307.40" stroke="#4a1028" stroke-width="0.8"/>
<line x1="254.50" y1="308.80" x2="257.90" y2="308.80" stroke="#4a1028" stroke-width="0.8"/>
<text x="0" y="0" transform="translate(210.70,324.90) rotate(-45)" font-size="8.5" text-anchor="end" fill="#2b2b2b" font-weight="normal" textLength="26.50" lengthAdjust="spacingAndGlyphs">Control</text>
<text x="0" y="0" transform="translate(225.80,324.90) rotate(-45)" font-size="8.5" text-anchor="end" fill="#2b2b2b" font-weight="normal" textLength="36.50" lengthAdjust="spacingAndGlyphs">iHamp-KO</text>
<text x="0" y="0" transform="translate(240.90,324.90) rotate(-45)" font-size="8.5" text-anchor="end" fill="#2b2b2b" font-weight="normal" textLength="10.70" lengthAdjust="spacingAndGlyphs">PV</text>
<text x="0" y="0" transform="translate(256.00,324.90) rotate(-45)" font-size="8.5" text-anchor="end" fill="#2b2b2b" font-weight="normal" textLength="55.50" lengthAdjust="spacingAndGlyphs">PV × iHamp-KO</text>
<text x="0" y="0" transform="translate(176.30,264.00) rotate(-90)" font-size="9.0" text-anchor="middle" fill="#2b2b2b" font-weight="normal" textLength="53.30" lengthAdjust="spacingAndGlyphs">% Ter119+ cells</text>
<rect x="275.3" y="222.6" width="120.70" height="91.90" fill="none" stroke="#222" stroke-width="1.1"/>
<line x1="275.30" y1="244.60" x2="396.00" y2="244.60" stroke="#222" stroke-width="1.0"/>
<line x1="275.30" y1="258.50" x2="396.00" y2="258.50" stroke="#222" stroke-width="1.0"/>
<line x1="275.30" y1="272.60" x2="396.00" y2="272.60" stroke="#222" stroke-width="1.0"/>
<line x1="275.30" y1="286.60" x2="396.00" y2="286.60" stroke="#222" stroke-width="1.0"/>
<line x1="275.30" y1="300.60" x2="396.00" y2="300.60" stroke="#222" stroke-width="1.0"/>
<line x1="300.30" y1="222.60" x2="300.30" y2="314.50" stroke="#222" stroke-width="1.0"/>
<line x1="333.10" y1="222.60" x2="333.10" y2="314.50" stroke="#222" stroke-width="1.0"/>
<text x="335.80" y="217.30" font-size="8.0" text-anchor="middle" fill="#2b2b2b" font-weight="normal" textLength="23.80" lengthAdjust="spacingAndGlyphs"><tspan font-style="italic">P</tspan>Value</text>
<text x="316.60" y="231.30" font-size="8.3" text-anchor="middle" fill="#2b2b2b" font-weight="normal" textLength="19.00" lengthAdjust="spacingAndGlyphs">PV vs</text>
<text x="316.60" y="241.00" font-size="8.3" text-anchor="middle" fill="#2b2b2b" font-weight="normal" textLength="27.00" lengthAdjust="spacingAndGlyphs">Control</text>
<text x="364.50" y="231.30" font-size="8.3" text-anchor="middle" fill="#2b2b2b" font-weight="normal" textLength="19.00" lengthAdjust="spacingAndGlyphs">PV vs</text>
<text x="364.40" y="241.00" font-size="8.3" text-anchor="middle" fill="#2b2b2b" font-weight="normal" textLength="56.00" lengthAdjust="spacingAndGlyphs">PV × iHamp-KO</text>
<rect x="280.90" y="248.75" width="5.60" height="5.60" fill="#c8102e"/>
<text x="289.40" y="254.45" font-size="8.0" text-anchor="start" fill="#2b2b2b" font-weight="normal">V</text>
<text x="316.60" y="254.95" font-size="9.0" text-anchor="middle" fill="#2b2b2b" font-weight="normal" textLength="13.80" lengthAdjust="spacingAndGlyphs">****</text>
<text x="364.30" y="254.55" font-size="8.3" text-anchor="middle" fill="#2b2b2b" font-weight="normal" textLength="19.80" lengthAdjust="spacingAndGlyphs">0.159</text>
<rect x="280.90" y="262.75" width="5.60" height="5.60" fill="#ec1584"/>
<text x="289.40" y="268.45" font-size="8.0" text-anchor="start" fill="#2b2b2b" font-weight="normal">IV</text>
<text x="316.60" y="268.95" font-size="9.0" text-anchor="middle" fill="#2b2b2b" font-weight="normal" textLength="13.80" lengthAdjust="spacingAndGlyphs">****</text>
<text x="364.30" y="268.55" font-size="8.3" text-anchor="middle" fill="#2b2b2b" font-weight="normal" textLength="19.80" lengthAdjust="spacingAndGlyphs">0.987</text>
<rect x="280.90" y="276.80" width="5.60" height="5.60" fill="#5b2a6e"/>
<text x="289.40" y="282.50" font-size="8.0" text-anchor="start" fill="#2b2b2b" font-weight="normal">III</text>
<text x="316.40" y="282.60" font-size="8.3" text-anchor="middle" fill="#2b2b2b" font-weight="normal" textLength="19.80" lengthAdjust="spacingAndGlyphs">0.666</text>
<text x="364.30" y="282.60" font-size="8.3" text-anchor="middle" fill="#2b2b2b" font-weight="normal" textLength="19.80" lengthAdjust="spacingAndGlyphs">0.172</text>
<rect x="280.90" y="290.80" width="5.60" height="5.60" fill="#1d4f82"/>
<text x="289.40" y="296.50" font-size="8.0" text-anchor="start" fill="#2b2b2b" font-weight="normal">II</text>
<text x="316.40" y="296.60" font-size="8.3" text-anchor="middle" fill="#2b2b2b" font-weight="normal" textLength="19.80" lengthAdjust="spacingAndGlyphs">0.336</text>
<text x="364.30" y="296.60" font-size="8.3" text-anchor="middle" fill="#2b2b2b" font-weight="normal" textLength="19.80" lengthAdjust="spacingAndGlyphs">0.952</text>
<rect x="280.90" y="304.75" width="5.60" height="5.60" fill="#3fa9e0"/>
<text x="289.40" y="310.45" font-size="8.0" text-anchor="start" fill="#2b2b2b" font-weight="normal">I</text>
<text x="316.40" y="310.55" font-size="8.3" text-anchor="middle" fill="#2b2b2b" font-weight="normal" textLength="19.80" lengthAdjust="spacingAndGlyphs">0.897</text>
<text x="364.30" y="310.55" font-size="8.3" text-anchor="middle" fill="#2b2b2b" font-weight="normal" textLength="19.80" lengthAdjust="spacingAndGlyphs">0.999</text>
<text x="410.80" y="207.40" font-size="11.2" text-anchor="start" fill="#111" font-weight="bold">G</text>
<line x1="448.50" y1="214.30" x2="448.50" y2="315.10" stroke="#1e1e1e" stroke-width="1.15"/>
<line x1="448.00" y1="314.50" x2="513.30" y2="314.50" stroke="#1e1e1e" stroke-width="1.15"/>
<line x1="445.50" y1="217.30" x2="448.50" y2="217.30" stroke="#1e1e1e" stroke-width="1.0"/>
<text x="442.20" y="220.30" font-size="8.6" text-anchor="end" fill="#2b2b2b" font-weight="normal" textLength="8.80" lengthAdjust="spacingAndGlyphs">80</text>
<line x1="445.50" y1="241.60" x2="448.50" y2="241.60" stroke="#1e1e1e" stroke-width="1.0"/>
<text x="442.20" y="244.60" font-size="8.6" text-anchor="end" fill="#2b2b2b" font-weight="normal" textLength="8.80" lengthAdjust="spacingAndGlyphs">60</text>
<line x1="445.50" y1="265.90" x2="448.50" y2="265.90" stroke="#1e1e1e" stroke-width="1.0"/>
<text x="442.20" y="268.90" font-size="8.6" text-anchor="end" fill="#2b2b2b" font-weight="normal" textLength="8.80" lengthAdjust="spacingAndGlyphs">40</text>
<line x1="445.50" y1="290.20" x2="448.50" y2="290.20" stroke="#1e1e1e" stroke-width="1.0"/>
<text x="442.20" y="293.20" font-size="8.6" text-anchor="end" fill="#2b2b2b" font-weight="normal" textLength="8.80" lengthAdjust="spacingAndGlyphs">20</text>
<line x1="445.50" y1="314.50" x2="448.50" y2="314.50" stroke="#1e1e1e" stroke-width="1.0"/>
<text x="442.20" y="317.50" font-size="8.6" text-anchor="end" fill="#2b2b2b" font-weight="normal" textLength="4.65" lengthAdjust="spacingAndGlyphs">0</text>
<rect x="454.50" y="252.95" width="8.00" height="61.55" fill="#7282b4" stroke="#55669c" stroke-width="0.7"/>
<line x1="458.50" y1="314.50" x2="458.50" y2="317.30" stroke="#1e1e1e" stroke-width="1.0"/>
<rect x="469.20" y="250.05" width="8.00" height="64.45" fill="#98c9ec" stroke="#6fb0e0" stroke-width="0.7"/>
<line x1="473.20" y1="314.50" x2="473.20" y2="317.30" stroke="#1e1e1e" stroke-width="1.0"/>
<rect x="484.40" y="262.35" width="8.00" height="52.15" fill="#e07464" stroke="#c85a4a" stroke-width="0.7"/>
<line x1="488.40" y1="314.50" x2="488.40" y2="317.30" stroke="#1e1e1e" stroke-width="1.0"/>
<rect x="499.50" y="244.35" width="8.00" height="70.15" fill="#9670a4" stroke="#7a5690" stroke-width="0.7"/>
<line x1="503.50" y1="314.50" x2="503.50" y2="317.30" stroke="#1e1e1e" stroke-width="1.0"/>
<line x1="458.50" y1="250.00" x2="458.50" y2="256.00" stroke="#1f3a7a" stroke-width="0.8"/>
<line x1="456.50" y1="250.00" x2="460.50" y2="250.00" stroke="#1f3a7a" stroke-width="0.8"/>
<line x1="456.50" y1="256.00" x2="460.50" y2="256.00" stroke="#1f3a7a" stroke-width="0.8"/>
<circle cx="455.50" cy="252.50" r="1.25" fill="#1f3a7a"/>
<circle cx="458.50" cy="251.50" r="1.25" fill="#1f3a7a"/>
<circle cx="461.50" cy="252.50" r="1.25" fill="#1f3a7a"/>
<circle cx="456.50" cy="255.50" r="1.25" fill="#1f3a7a"/>
<circle cx="460.50" cy="255.00" r="1.25" fill="#1f3a7a"/>
<line x1="473.20" y1="248.00" x2="473.20" y2="251.50" stroke="#3a9fdc" stroke-width="0.8"/>
<line x1="471.20" y1="248.00" x2="475.20" y2="248.00" stroke="#3a9fdc" stroke-width="0.8"/>
<line x1="471.20" y1="251.50" x2="475.20" y2="251.50" stroke="#3a9fdc" stroke-width="0.8"/>
<circle cx="470.50" cy="250.50" r="1.25" fill="#3a9fdc"/>
<circle cx="473.20" cy="249.50" r="1.25" fill="#3a9fdc"/>
<circle cx="476.00" cy="250.50" r="1.25" fill="#3a9fdc"/>
<line x1="488.40" y1="255.00" x2="488.40" y2="268.00" stroke="#d01c2c" stroke-width="0.8"/>
<line x1="486.40" y1="255.00" x2="490.40" y2="255.00" stroke="#d01c2c" stroke-width="0.8"/>
<line x1="486.40" y1="268.00" x2="490.40" y2="268.00" stroke="#d01c2c" stroke-width="0.8"/>
<circle cx="485.50" cy="257.50" r="1.25" fill="#d01c2c"/>
<circle cx="491.50" cy="258.50" r="1.25" fill="#d01c2c"/>
<circle cx="488.40" cy="262.00" r="1.25" fill="#d01c2c"/>
<circle cx="488.40" cy="268.00" r="1.25" fill="#d01c2c"/>
<circle cx="488.40" cy="256.00" r="1.25" fill="#d01c2c"/>
<line x1="503.50" y1="241.50" x2="503.50" y2="247.00" stroke="#4f2060" stroke-width="0.8"/>
<line x1="501.25" y1="241.50" x2="505.75" y2="241.50" stroke="#4f2060" stroke-width="0.8"/>
<line x1="501.25" y1="247.00" x2="505.75" y2="247.00" stroke="#4f2060" stroke-width="0.8"/>
<circle cx="500.50" cy="243.50" r="1.25" fill="#4f2060"/>
<circle cx="503.50" cy="242.50" r="1.25" fill="#4f2060"/>
<circle cx="506.50" cy="242.00" r="1.25" fill="#4f2060"/>
<circle cx="500.50" cy="246.50" r="1.25" fill="#4f2060"/>
<circle cx="504.00" cy="246.00" r="1.25" fill="#4f2060"/>
<circle cx="506.50" cy="245.00" r="1.25" fill="#4f2060"/>
<polyline points="458.30,246.80 458.30,230.90 486.50,230.90 486.50,249.70" fill="none" stroke="#555555" stroke-width="1.0"/>
<text x="472.40" y="228.50" font-size="8.2" text-anchor="middle" fill="#2b2b2b" font-weight="normal">0.231</text>
<polyline points="489.80,249.70 489.80,230.90 503.50,230.90 503.50,236.70" fill="none" stroke="#555555" stroke-width="1.0"/>
<text x="496.65" y="231.30" font-size="8.6" text-anchor="middle" fill="#2b2b2b" font-weight="normal">****</text>
<text x="0" y="0" transform="translate(458.30,325.00) rotate(-45)" font-size="8.5" text-anchor="end" fill="#2b2b2b" font-weight="normal" textLength="26.50" lengthAdjust="spacingAndGlyphs">Control</text>
<text x="0" y="0" transform="translate(473.00,325.00) rotate(-45)" font-size="8.5" text-anchor="end" fill="#2b2b2b" font-weight="normal" textLength="36.50" lengthAdjust="spacingAndGlyphs">iHamp-KO</text>
<text x="0" y="0" transform="translate(488.20,325.00) rotate(-45)" font-size="8.5" text-anchor="end" fill="#2b2b2b" font-weight="normal" textLength="10.70" lengthAdjust="spacingAndGlyphs">PV</text>
<text x="0" y="0" transform="translate(503.30,325.00) rotate(-45)" font-size="8.5" text-anchor="end" fill="#2b2b2b" font-weight="normal" textLength="55.50" lengthAdjust="spacingAndGlyphs">PV × iHamp-KO</text>
<text x="0" y="0" transform="translate(427.80,264.40) rotate(-90)" font-size="9.0" text-anchor="middle" fill="#2b2b2b" font-weight="normal" textLength="27.50" lengthAdjust="spacingAndGlyphs">MCV (fL)</text>
<text x="71.60" y="390.50" font-size="11.2" text-anchor="start" fill="#111" font-weight="bold">H</text>
<line x1="129.50" y1="421.00" x2="129.50" y2="521.10" stroke="#1e1e1e" stroke-width="1.15"/>
<line x1="129.00" y1="520.50" x2="193.30" y2="520.50" stroke="#1e1e1e" stroke-width="1.15"/>
<line x1="126.50" y1="424.00" x2="129.50" y2="424.00" stroke="#1e1e1e" stroke-width="1.0"/>
<text x="123.20" y="427.00" font-size="8.6" text-anchor="end" fill="#2b2b2b" font-weight="normal" textLength="17.10" lengthAdjust="spacingAndGlyphs">4000</text>
<line x1="126.50" y1="448.10" x2="129.50" y2="448.10" stroke="#1e1e1e" stroke-width="1.0"/>
<text x="123.20" y="451.10" font-size="8.6" text-anchor="end" fill="#2b2b2b" font-weight="normal" textLength="17.10" lengthAdjust="spacingAndGlyphs">3000</text>
<line x1="126.50" y1="472.20" x2="129.50" y2="472.20" stroke="#1e1e1e" stroke-width="1.0"/>
<text x="123.20" y="475.20" font-size="8.6" text-anchor="end" fill="#2b2b2b" font-weight="normal" textLength="17.10" lengthAdjust="spacingAndGlyphs">2000</text>
<line x1="126.50" y1="496.10" x2="129.50" y2="496.10" stroke="#1e1e1e" stroke-width="1.0"/>
<text x="123.20" y="499.10" font-size="8.6" text-anchor="end" fill="#2b2b2b" font-weight="normal" textLength="17.10" lengthAdjust="spacingAndGlyphs">1000</text>
<line x1="126.50" y1="520.00" x2="129.50" y2="520.00" stroke="#1e1e1e" stroke-width="1.0"/>
<text x="123.20" y="523.00" font-size="8.6" text-anchor="end" fill="#2b2b2b" font-weight="normal" textLength="4.65" lengthAdjust="spacingAndGlyphs">0</text>
<rect x="135.80" y="516.05" width="7.60" height="3.95" fill="#7282b4" stroke="#55669c" stroke-width="0.7"/>
<line x1="139.60" y1="520.00" x2="139.60" y2="522.80" stroke="#1e1e1e" stroke-width="1.0"/>
<rect x="150.60" y="483.55" width="7.60" height="36.45" fill="#98c9ec" stroke="#6fb0e0" stroke-width="0.7"/>
<line x1="154.40" y1="520.00" x2="154.40" y2="522.80" stroke="#1e1e1e" stroke-width="1.0"/>
<rect x="165.30" y="515.65" width="7.60" height="4.35" fill="#e07464" stroke="#c85a4a" stroke-width="0.7"/>
<line x1="169.10" y1="520.00" x2="169.10" y2="522.80" stroke="#1e1e1e" stroke-width="1.0"/>
<rect x="180.10" y="483.55" width="7.60" height="36.45" fill="#9670a4" stroke="#7a5690" stroke-width="0.7"/>
<line x1="183.90" y1="520.00" x2="183.90" y2="522.80" stroke="#1e1e1e" stroke-width="1.0"/>
<line x1="139.60" y1="511.00" x2="139.60" y2="518.00" stroke="#1f3a7a" stroke-width="0.8"/>
<line x1="137.60" y1="511.00" x2="141.60" y2="511.00" stroke="#1f3a7a" stroke-width="0.8"/>
<line x1="137.60" y1="518.00" x2="141.60" y2="518.00" stroke="#1f3a7a" stroke-width="0.8"/>
<circle cx="137.00" cy="512.00" r="1.25" fill="#1f3a7a"/>
<circle cx="140.50" cy="511.00" r="1.25" fill="#1f3a7a"/>
<circle cx="142.50" cy="513.50" r="1.25" fill="#1f3a7a"/>
<circle cx="137.50" cy="515.50" r="1.25" fill="#1f3a7a"/>
<circle cx="141.00" cy="516.50" r="1.25" fill="#1f3a7a"/>
<circle cx="139.60" cy="514.00" r="1.25" fill="#1f3a7a"/>
<line x1="154.40" y1="469.10" x2="154.40" y2="497.00" stroke="#3a9fdc" stroke-width="0.8"/>
<line x1="152.40" y1="469.10" x2="156.40" y2="469.10" stroke="#3a9fdc" stroke-width="0.8"/>
<line x1="152.40" y1="497.00" x2="156.40" y2="497.00" stroke="#3a9fdc" stroke-width="0.8"/>
<circle cx="153.90" cy="463.50" r="1.25" fill="#3a9fdc"/>
<circle cx="154.40" cy="483.00" r="1.25" fill="#3a9fdc"/>
<circle cx="154.40" cy="488.00" r="1.25" fill="#3a9fdc"/>
<circle cx="154.40" cy="492.50" r="1.25" fill="#3a9fdc"/>
<line x1="169.10" y1="514.00" x2="169.10" y2="517.00" stroke="#d01c2c" stroke-width="0.8"/>
<line x1="167.10" y1="514.00" x2="171.10" y2="514.00" stroke="#d01c2c" stroke-width="0.8"/>
<line x1="167.10" y1="517.00" x2="171.10" y2="517.00" stroke="#d01c2c" stroke-width="0.8"/>
<circle cx="166.50" cy="515.50" r="1.25" fill="#d01c2c"/>
<circle cx="169.10" cy="515.00" r="1.25" fill="#d01c2c"/>
<circle cx="171.70" cy="515.50" r="1.25" fill="#d01c2c"/>
<circle cx="168.00" cy="516.50" r="1.25" fill="#d01c2c"/>
<circle cx="170.50" cy="516.50" r="1.25" fill="#d01c2c"/>
<line x1="183.90" y1="458.40" x2="183.90" y2="508.00" stroke="#4f2060" stroke-width="0.8"/>
<line x1="181.65" y1="458.40" x2="186.15" y2="458.40" stroke="#4f2060" stroke-width="0.8"/>
<line x1="181.65" y1="508.00" x2="186.15" y2="508.00" stroke="#4f2060" stroke-width="0.8"/>
<circle cx="183.50" cy="449.00" r="1.25" fill="#4f2060"/>
<circle cx="183.50" cy="471.80" r="1.25" fill="#4f2060"/>
<circle cx="180.50" cy="496.70" r="1.25" fill="#4f2060"/>
<circle cx="187.00" cy="496.70" r="1.25" fill="#4f2060"/>
<circle cx="183.90" cy="480.50" r="1.25" fill="#4f2060"/>
<circle cx="183.90" cy="515.50" r="1.25" fill="#4f2060"/>
<polyline points="139.50,506.20 139.50,437.50 166.80,437.50 166.80,509.00" fill="none" stroke="#555555" stroke-width="1.0"/>
<text x="153.15" y="435.40" font-size="8.0" text-anchor="middle" fill="#2b2b2b" font-weight="normal">ns</text>
<polyline points="170.50,509.00 170.50,437.50 183.60,437.50 183.60,444.20" fill="none" stroke="#555555" stroke-width="1.0"/>
<text x="177.05" y="437.70" font-size="8.0" text-anchor="middle" fill="#2b2b2b" font-weight="normal">**</text>
<text x="0" y="0" transform="translate(139.40,530.50) rotate(-45)" font-size="8.5" text-anchor="end" fill="#2b2b2b" font-weight="normal" textLength="26.50" lengthAdjust="spacingAndGlyphs">Control</text>
<text x="0" y="0" transform="translate(154.20,530.50) rotate(-45)" font-size="8.5" text-anchor="end" fill="#2b2b2b" font-weight="normal" textLength="36.50" lengthAdjust="spacingAndGlyphs">iHamp-KO</text>
<text x="0" y="0" transform="translate(168.90,530.50) rotate(-45)" font-size="8.5" text-anchor="end" fill="#2b2b2b" font-weight="normal" textLength="10.70" lengthAdjust="spacingAndGlyphs">PV</text>
<text x="0" y="0" transform="translate(183.70,530.50) rotate(-45)" font-size="8.5" text-anchor="end" fill="#2b2b2b" font-weight="normal" textLength="55.50" lengthAdjust="spacingAndGlyphs">PV × iHamp-KO</text>
<text x="0" y="0" transform="translate(89.90,470.40) rotate(-90)" font-size="9.0" text-anchor="middle" fill="#2b2b2b" font-weight="normal" textLength="64.20" lengthAdjust="spacingAndGlyphs">Nonheme liver iron</text>
<text x="0" y="0" transform="translate(100.00,470.80) rotate(-90)" font-size="9.0" text-anchor="middle" fill="#2b2b2b" font-weight="normal" textLength="58.30" lengthAdjust="spacingAndGlyphs">(µg/g dried liver)</text>
<text x="209.20" y="390.50" font-size="11.2" text-anchor="start" fill="#111" font-weight="bold">I</text>
<line x1="266.50" y1="420.30" x2="266.50" y2="521.10" stroke="#1e1e1e" stroke-width="1.15"/>
<line x1="266.00" y1="520.50" x2="330.50" y2="520.50" stroke="#1e1e1e" stroke-width="1.15"/>
<line x1="263.50" y1="423.30" x2="266.50" y2="423.30" stroke="#1e1e1e" stroke-width="1.0"/>
<text x="260.20" y="426.30" font-size="8.6" text-anchor="end" fill="#2b2b2b" font-weight="normal" textLength="17.10" lengthAdjust="spacingAndGlyphs">3000</text>
<line x1="263.50" y1="455.50" x2="266.50" y2="455.50" stroke="#1e1e1e" stroke-width="1.0"/>
<text x="260.20" y="458.50" font-size="8.6" text-anchor="end" fill="#2b2b2b" font-weight="normal" textLength="17.10" lengthAdjust="spacingAndGlyphs">2000</text>
<line x1="263.50" y1="488.00" x2="266.50" y2="488.00" stroke="#1e1e1e" stroke-width="1.0"/>
<text x="260.20" y="491.00" font-size="8.6" text-anchor="end" fill="#2b2b2b" font-weight="normal" textLength="17.10" lengthAdjust="spacingAndGlyphs">1000</text>
<line x1="263.50" y1="520.00" x2="266.50" y2="520.00" stroke="#1e1e1e" stroke-width="1.0"/>
<text x="260.20" y="523.00" font-size="8.6" text-anchor="end" fill="#2b2b2b" font-weight="normal" textLength="4.65" lengthAdjust="spacingAndGlyphs">0</text>
<rect x="272.15" y="468.55" width="7.50" height="51.45" fill="#7282b4" stroke="#55669c" stroke-width="0.7"/>
<line x1="275.90" y1="520.00" x2="275.90" y2="522.80" stroke="#1e1e1e" stroke-width="1.0"/>
<rect x="287.05" y="502.95" width="7.50" height="17.05" fill="#98c9ec" stroke="#6fb0e0" stroke-width="0.7"/>
<line x1="290.80" y1="520.00" x2="290.80" y2="522.80" stroke="#1e1e1e" stroke-width="1.0"/>
<rect x="301.95" y="507.25" width="7.50" height="12.75" fill="#e07464" stroke="#c85a4a" stroke-width="0.7"/>
<line x1="305.70" y1="520.00" x2="305.70" y2="522.80" stroke="#1e1e1e" stroke-width="1.0"/>
<rect x="316.95" y="512.35" width="7.50" height="7.65" fill="#9670a4" stroke="#7a5690" stroke-width="0.7"/>
<line x1="320.70" y1="520.00" x2="320.70" y2="522.80" stroke="#1e1e1e" stroke-width="1.0"/>
<line x1="275.90" y1="441.80" x2="275.90" y2="492.00" stroke="#1f3a7a" stroke-width="0.8"/>
<line x1="273.40" y1="441.80" x2="278.40" y2="441.80" stroke="#1f3a7a" stroke-width="0.8"/>
<line x1="273.40" y1="492.00" x2="278.40" y2="492.00" stroke="#1f3a7a" stroke-width="0.8"/>
<circle cx="275.90" cy="433.40" r="1.25" fill="#1f3a7a"/>
<circle cx="275.90" cy="450.90" r="1.25" fill="#1f3a7a"/>
<circle cx="275.90" cy="454.40" r="1.25" fill="#1f3a7a"/>
<circle cx="272.70" cy="479.80" r="1.25" fill="#1f3a7a"/>
<circle cx="279.50" cy="479.80" r="1.25" fill="#1f3a7a"/>
<circle cx="275.90" cy="504.00" r="1.25" fill="#1f3a7a"/>
<line x1="290.80" y1="501.80" x2="290.80" y2="508.30" stroke="#3a9fdc" stroke-width="0.8"/>
<line x1="288.55" y1="501.80" x2="293.05" y2="501.80" stroke="#3a9fdc" stroke-width="0.8"/>
<line x1="288.55" y1="508.30" x2="293.05" y2="508.30" stroke="#3a9fdc" stroke-width="0.8"/>
<circle cx="288.00" cy="502.50" r="1.25" fill="#3a9fdc"/>
<circle cx="293.50" cy="502.00" r="1.25" fill="#3a9fdc"/>
<circle cx="288.50" cy="506.50" r="1.25" fill="#3a9fdc"/>
<circle cx="293.00" cy="506.00" r="1.25" fill="#3a9fdc"/>
<circle cx="290.80" cy="505.00" r="1.25" fill="#3a9fdc"/>
<line x1="305.70" y1="500.40" x2="305.70" y2="512.00" stroke="#d01c2c" stroke-width="0.8"/>
<line x1="303.45" y1="500.40" x2="307.95" y2="500.40" stroke="#d01c2c" stroke-width="0.8"/>
<line x1="303.45" y1="512.00" x2="307.95" y2="512.00" stroke="#d01c2c" stroke-width="0.8"/>
<circle cx="302.00" cy="500.50" r="1.25" fill="#d01c2c"/>
<circle cx="309.50" cy="500.50" r="1.25" fill="#d01c2c"/>
<circle cx="302.50" cy="507.00" r="1.25" fill="#d01c2c"/>
<circle cx="308.50" cy="507.00" r="1.25" fill="#d01c2c"/>
<circle cx="305.70" cy="508.50" r="1.25" fill="#d01c2c"/>
<line x1="320.70" y1="506.00" x2="320.70" y2="514.00" stroke="#4f2060" stroke-width="0.8"/>
<line x1="318.45" y1="506.00" x2="322.95" y2="506.00" stroke="#4f2060" stroke-width="0.8"/>
<line x1="318.45" y1="514.00" x2="322.95" y2="514.00" stroke="#4f2060" stroke-width="0.8"/>
<circle cx="320.70" cy="504.70" r="1.25" fill="#4f2060"/>
<circle cx="318.00" cy="508.50" r="1.25" fill="#4f2060"/>
<circle cx="323.00" cy="509.00" r="1.25" fill="#4f2060"/>
<circle cx="319.00" cy="511.50" r="1.25" fill="#4f2060"/>
<circle cx="322.50" cy="512.00" r="1.25" fill="#4f2060"/>
<circle cx="320.70" cy="514.80" r="1.25" fill="#4f2060"/>
<polyline points="275.60,427.40 275.60,422.00 303.50,422.00 303.50,494.60" fill="none" stroke="#555555" stroke-width="1.0"/>
<text x="289.55" y="422.20" font-size="8.0" text-anchor="middle" fill="#2b2b2b" font-weight="normal">***</text>
<polyline points="307.30,494.60 307.30,422.00 320.70,422.00 320.70,499.70" fill="none" stroke="#555555" stroke-width="1.0"/>
<text x="314.00" y="419.90" font-size="8.0" text-anchor="middle" fill="#2b2b2b" font-weight="normal">ns</text>
<text x="0" y="0" transform="translate(275.70,530.50) rotate(-45)" font-size="8.5" text-anchor="end" fill="#2b2b2b" font-weight="normal" textLength="26.50" lengthAdjust="spacingAndGlyphs">Control</text>
<text x="0" y="0" transform="translate(290.60,530.50) rotate(-45)" font-size="8.5" text-anchor="end" fill="#2b2b2b" font-weight="normal" textLength="36.50" lengthAdjust="spacingAndGlyphs">iHamp-KO</text>
<text x="0" y="0" transform="translate(305.50,530.50) rotate(-45)" font-size="8.5" text-anchor="end" fill="#2b2b2b" font-weight="normal" textLength="10.70" lengthAdjust="spacingAndGlyphs">PV</text>
<text x="0" y="0" transform="translate(320.50,530.50) rotate(-45)" font-size="8.5" text-anchor="end" fill="#2b2b2b" font-weight="normal" textLength="55.50" lengthAdjust="spacingAndGlyphs">PV × iHamp-KO</text>
<text x="0" y="0" transform="translate(225.80,470.20) rotate(-90)" font-size="9.0" text-anchor="middle" fill="#2b2b2b" font-weight="normal" textLength="74.80" lengthAdjust="spacingAndGlyphs">Nonheme splenic iron</text>
<text x="0" y="0" transform="translate(236.90,471.80) rotate(-90)" font-size="9.0" text-anchor="middle" fill="#2b2b2b" font-weight="normal" textLength="70.00" lengthAdjust="spacingAndGlyphs">(µg/g dried spleen)</text>
<text x="348.20" y="390.50" font-size="11.2" text-anchor="start" fill="#111" font-weight="bold">J</text>
<line x1="382.50" y1="420.20" x2="382.50" y2="521.10" stroke="#1e1e1e" stroke-width="1.15"/>
<line x1="382.00" y1="520.50" x2="447.00" y2="520.50" stroke="#1e1e1e" stroke-width="1.15"/>
<line x1="379.50" y1="423.20" x2="382.50" y2="423.20" stroke="#1e1e1e" stroke-width="1.0"/>
<text x="376.20" y="426.20" font-size="8.6" text-anchor="end" fill="#2b2b2b" font-weight="normal" textLength="8.80" lengthAdjust="spacingAndGlyphs">20</text>
<line x1="379.50" y1="447.50" x2="382.50" y2="447.50" stroke="#1e1e1e" stroke-width="1.0"/>
<text x="376.20" y="450.50" font-size="8.6" text-anchor="end" fill="#2b2b2b" font-weight="normal" textLength="8.80" lengthAdjust="spacingAndGlyphs">15</text>
<line x1="379.50" y1="471.70" x2="382.50" y2="471.70" stroke="#1e1e1e" stroke-width="1.0"/>
<text x="376.20" y="474.70" font-size="8.6" text-anchor="end" fill="#2b2b2b" font-weight="normal" textLength="8.80" lengthAdjust="spacingAndGlyphs">10</text>
<line x1="379.50" y1="496.10" x2="382.50" y2="496.10" stroke="#1e1e1e" stroke-width="1.0"/>
<text x="376.20" y="499.10" font-size="8.6" text-anchor="end" fill="#2b2b2b" font-weight="normal" textLength="4.65" lengthAdjust="spacingAndGlyphs">5</text>
<line x1="379.50" y1="520.20" x2="382.50" y2="520.20" stroke="#1e1e1e" stroke-width="1.0"/>
<text x="376.20" y="523.20" font-size="8.6" text-anchor="end" fill="#2b2b2b" font-weight="normal" textLength="4.65" lengthAdjust="spacingAndGlyphs">0</text>
<rect x="389.20" y="468.85" width="8.00" height="51.35" fill="#7282b4" stroke="#55669c" stroke-width="0.7"/>
<line x1="393.20" y1="520.20" x2="393.20" y2="523.00" stroke="#1e1e1e" stroke-width="1.0"/>
<rect x="404.10" y="470.55" width="8.00" height="49.65" fill="#98c9ec" stroke="#6fb0e0" stroke-width="0.7"/>
<line x1="408.10" y1="520.20" x2="408.10" y2="523.00" stroke="#1e1e1e" stroke-width="1.0"/>
<rect x="419.40" y="444.65" width="8.00" height="75.55" fill="#e07464" stroke="#c85a4a" stroke-width="0.7"/>
<line x1="423.40" y1="520.20" x2="423.40" y2="523.00" stroke="#1e1e1e" stroke-width="1.0"/>
<rect x="434.20" y="456.55" width="8.00" height="63.65" fill="#9670a4" stroke="#7a5690" stroke-width="0.7"/>
<line x1="438.20" y1="520.20" x2="438.20" y2="523.00" stroke="#1e1e1e" stroke-width="1.0"/>
<line x1="393.20" y1="465.50" x2="393.20" y2="471.50" stroke="#1f3a7a" stroke-width="0.8"/>
<line x1="391.20" y1="465.50" x2="395.20" y2="465.50" stroke="#1f3a7a" stroke-width="0.8"/>
<line x1="391.20" y1="471.50" x2="395.20" y2="471.50" stroke="#1f3a7a" stroke-width="0.8"/>
<circle cx="390.50" cy="468.00" r="1.25" fill="#1f3a7a"/>
<circle cx="393.20" cy="466.50" r="1.25" fill="#1f3a7a"/>
<circle cx="396.00" cy="468.00" r="1.25" fill="#1f3a7a"/>
<circle cx="391.00" cy="470.50" r="1.25" fill="#1f3a7a"/>
<circle cx="395.50" cy="470.50" r="1.25" fill="#1f3a7a"/>
<circle cx="393.20" cy="463.00" r="1.25" fill="#1f3a7a"/>
<line x1="408.10" y1="467.00" x2="408.10" y2="472.50" stroke="#3a9fdc" stroke-width="0.8"/>
<line x1="406.10" y1="467.00" x2="410.10" y2="467.00" stroke="#3a9fdc" stroke-width="0.8"/>
<line x1="406.10" y1="472.50" x2="410.10" y2="472.50" stroke="#3a9fdc" stroke-width="0.8"/>
<circle cx="405.50" cy="469.00" r="1.25" fill="#3a9fdc"/>
<circle cx="408.10" cy="468.00" r="1.25" fill="#3a9fdc"/>
<circle cx="411.00" cy="468.50" r="1.25" fill="#3a9fdc"/>
<circle cx="406.00" cy="471.50" r="1.25" fill="#3a9fdc"/>
<circle cx="410.50" cy="471.50" r="1.25" fill="#3a9fdc"/>
<line x1="423.40" y1="433.30" x2="423.40" y2="452.00" stroke="#d01c2c" stroke-width="0.8"/>
<line x1="421.15" y1="433.30" x2="425.65" y2="433.30" stroke="#d01c2c" stroke-width="0.8"/>
<line x1="421.15" y1="452.00" x2="425.65" y2="452.00" stroke="#d01c2c" stroke-width="0.8"/>
<circle cx="423.00" cy="430.90" r="1.25" fill="#d01c2c"/>
<circle cx="423.00" cy="440.10" r="1.25" fill="#d01c2c"/>
<circle cx="420.00" cy="452.00" r="1.25" fill="#d01c2c"/>
<circle cx="426.50" cy="452.00" r="1.25" fill="#d01c2c"/>
<circle cx="423.20" cy="448.00" r="1.25" fill="#d01c2c"/>
<line x1="438.20" y1="453.00" x2="438.20" y2="460.00" stroke="#4f2060" stroke-width="0.8"/>
<line x1="435.95" y1="453.00" x2="440.45" y2="453.00" stroke="#4f2060" stroke-width="0.8"/>
<line x1="435.95" y1="460.00" x2="440.45" y2="460.00" stroke="#4f2060" stroke-width="0.8"/>
<circle cx="435.50" cy="455.00" r="1.25" fill="#4f2060"/>
<circle cx="438.20" cy="454.00" r="1.25" fill="#4f2060"/>
<circle cx="441.00" cy="455.00" r="1.25" fill="#4f2060"/>
<circle cx="436.00" cy="458.00" r="1.25" fill="#4f2060"/>
<circle cx="440.50" cy="458.00" r="1.25" fill="#4f2060"/>
<circle cx="438.20" cy="461.00" r="1.25" fill="#4f2060"/>
<polyline points="393.00,462.70 393.00,399.50 423.00,399.50 423.00,405.90" fill="none" stroke="#555555" stroke-width="1.0"/>
<text x="408.00" y="399.90" font-size="8.6" text-anchor="middle" fill="#2b2b2b" font-weight="normal">****</text>
<polyline points="422.60,425.40 422.60,419.30 437.90,419.30 437.90,448.50" fill="none" stroke="#555555" stroke-width="1.0"/>
<text x="430.25" y="419.50" font-size="8.0" text-anchor="middle" fill="#2b2b2b" font-weight="normal">***</text>
<text x="0" y="0" transform="translate(393.00,530.70) rotate(-45)" font-size="8.5" text-anchor="end" fill="#2b2b2b" font-weight="normal" textLength="26.50" lengthAdjust="spacingAndGlyphs">Control</text>
<text x="0" y="0" transform="translate(407.90,530.70) rotate(-45)" font-size="8.5" text-anchor="end" fill="#2b2b2b" font-weight="normal" textLength="36.50" lengthAdjust="spacingAndGlyphs">iHamp-KO</text>
<text x="0" y="0" transform="translate(423.20,530.70) rotate(-45)" font-size="8.5" text-anchor="end" fill="#2b2b2b" font-weight="normal" textLength="10.70" lengthAdjust="spacingAndGlyphs">PV</text>
<text x="0" y="0" transform="translate(438.00,530.70) rotate(-45)" font-size="8.5" text-anchor="end" fill="#2b2b2b" font-weight="normal" textLength="55.50" lengthAdjust="spacingAndGlyphs">PV × iHamp-KO</text>
<text x="0" y="0" transform="translate(362.40,469.90) rotate(-90)" font-size="9.0" text-anchor="middle" fill="#2b2b2b" font-weight="normal" textLength="44.10" lengthAdjust="spacingAndGlyphs">RBC (10<tspan font-size="5.5" dy="-3">6</tspan><tspan dy="3">/µL)</tspan></text>
<rect x="0.5" y="0.5" width="519" height="577" fill="none" stroke="#606060" stroke-width="1"/>
</svg>
</body></html>
